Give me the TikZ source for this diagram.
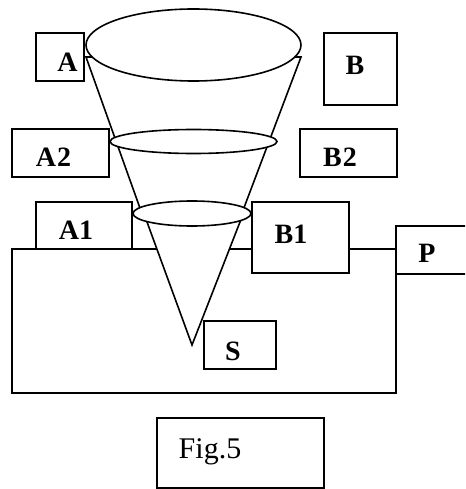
\documentclass[tikz,border=0pt]{standalone}
\usepackage{fontspec}
\setmainfont{Liberation Serif}
\usetikzlibrary{shapes.geometric}
\tikzset{
  frame/.style={draw, fill=white, rectangle, inner sep=0pt, outer sep=0pt},
  oval/.style={draw, fill=white, ellipse, inner sep=0pt, outer sep=0pt},
  lbl/.style={inner sep=0pt, anchor=base, font=\fontsize{28}{32}\selectfont\bfseries},
  figlbl/.style={inner sep=0pt, anchor=base, font=\fontsize{30}{35}\selectfont},
  conepart/.style={draw, fill=white, line join=miter}
}
\begin{document}
\begin{tikzpicture}[x=1pt, y=-1pt, line width=1.6pt]
\useasboundingbox (0,0) rectangle (465,489);
\clip (0,0) rectangle (465,489);
% big rectangle
\draw (12,249) rectangle (396,393);
% boxes
\node[frame, minimum width=96pt, minimum height=47pt] (bA1) at (84,225.5) {};
\node[frame, minimum width=97pt, minimum height=71pt] (bB1) at (300.5,237.5) {};
\node[frame, minimum width=84pt, minimum height=48pt] (bP) at (438,250) {};
\node[frame, minimum width=72pt, minimum height=48pt] (bS) at (240,345) {};
\node[frame, minimum width=48pt, minimum height=48pt] (bA) at (60,57) {};
\node[frame, minimum width=73pt, minimum height=72pt] (bB) at (360.5,69) {};
\node[frame, minimum width=97pt, minimum height=48pt] (bA2) at (60.5,153) {};
\node[frame, minimum width=97pt, minimum height=48pt] (bB2) at (348.5,153) {};
\node[frame, minimum width=167pt, minimum height=70pt, line width=1.1pt] (bFig) at (240.5,453) {};
% cone (frustum)
\coordinate (t1) at (86,57);
\coordinate (t2) at (301,57);
\coordinate (m2) at (241.8,213.5);
\coordinate (m1) at (141.9,213.5);
\path[conepart] (t1) -- (t2) -- (m2) -- (m1) -- cycle;
\node[oval, minimum width=215pt, minimum height=72pt] (eTop) at (193.5,45) {};
\node[oval, minimum width=167pt, minimum height=24pt] (eMid) at (193.5,141.5) {};
% lower cone
\coordinate (c1) at (143.9,213.5);
\coordinate (c2) at (243.3,213.5);
\coordinate (apex) at (192,345);
\path[conepart] (c1) -- (c2) -- (apex) -- cycle;
\node[oval, minimum width=118pt, minimum height=25pt] (eBot) at (192,213.5) {};
% labels
\node[lbl] (tA) at (67.5,72) {A};
\node[lbl] (tB) at (355,75) {B};
\node[lbl] (tA2) at (53.5,167) {A\kern1pt 2};
\node[lbl] (tB2) at (340,167) {B\kern1pt 2};
\node[lbl] (tA1) at (76,239) {A1};
\node[lbl] (tB1) at (291,243) {B1};
\node[lbl] (tP) at (427,262) {P};
\node[lbl] (tS) at (233,360) {S};
\node[figlbl] (tFig) at (210,458) {Fig.5};
\end{tikzpicture}
\end{document}
